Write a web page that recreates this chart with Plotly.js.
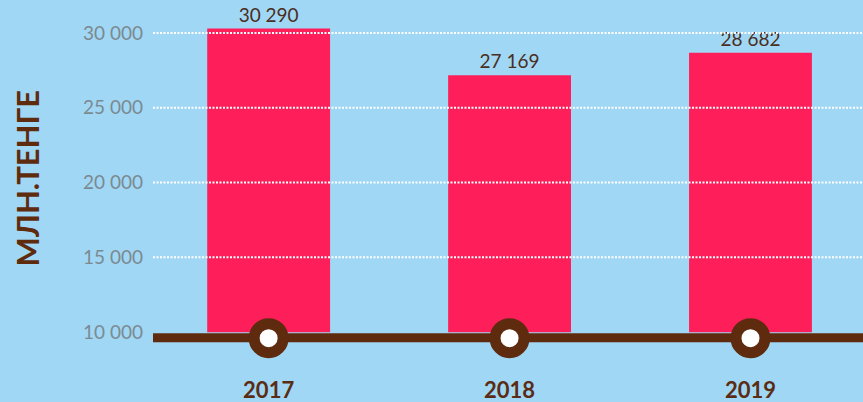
<!DOCTYPE html>
<html><head><meta charset="utf-8">
<script src="https://cdn.plot.ly/plotly-3.0.1.min.js"></script>
<style>html,body{margin:0;padding:0;background:#a0d7f4;}#chart{width:863px;height:402px;}</style>
</head><body><div id="chart"></div>
<script>
const years = ['2017', '2018', '2019'];
const values = [30290, 27169, 28682];
const yTicks = [10000, 15000, 20000, 25000, 30000];
const yTitle = 'МЛН.ТЕНГЕ';

const brown = '#5e2b0f';
const base = yTicks[0];
const yRange = [5333, 32200];
const unitsPerPx = (yRange[1] - yRange[0]) / 402;
const fmt = v => v.toLocaleString('en-US').replace(/,/g, ' ');
const data = [
  {
    type: 'bar', x: years, y: values.map(v => v - base), base: base,
    marker: {color: '#fe1f5a'},
    text: values.map(fmt),
    textposition: 'outside', cliponaxis: false,
    textfont: {family: 'Lato, sans-serif', size: 19, color: '#4a2e22'},
    hoverinfo: 'none'
  },
  {
    type: 'scatter', mode: 'markers', x: years,
    y: years.map(() => base - 6 * unitsPerPx),
    marker: {size: 29, color: '#ffffff', line: {color: brown, width: 11}},
    hoverinfo: 'none'
  },
  {
    type: 'scatter', mode: 'text', x: years,
    y: years.map(() => base - 60 * unitsPerPx),
    text: years, textposition: 'middle center',
    textfont: {family: 'Lato, sans-serif', size: 22, color: '#5a2c14', weight: 'bold'},
    hoverinfo: 'none'
  }
];
const layout = {
  width: 863, height: 402,
  margin: {l: 153, r: 0, t: 0, b: 0},
  paper_bgcolor: '#a0d7f4', plot_bgcolor: '#a0d7f4',
  showlegend: false,
  bargap: 0.49,
  xaxis: {
    type: 'category', range: [-0.48, 2.467], showgrid: false, zeroline: false,
    showline: false, showticklabels: false, ticks: ''
  },
  yaxis: {
    range: yRange, showgrid: false, zeroline: false, showline: false,
    tickvals: yTicks, ticktext: yTicks.map(fmt),
    ticks: '', ticklabelstandoff: 9,
    tickfont: {family: 'Lato, sans-serif', size: 19, color: '#7b8a92'}
  },
  shapes: yTicks.filter(v => v > base).map(v => ({
    type: 'line', xref: 'paper', x0: 0, x1: 1, yref: 'y', y0: v, y1: v,
    layer: 'above', line: {color: '#ffffff', width: 2, dash: '2px,1.5px'}
  })).concat([{
    type: 'line', xref: 'paper', x0: 0, x1: 1, yref: 'y',
    y0: base - 5.5 * unitsPerPx, y1: base - 5.5 * unitsPerPx,
    layer: 'below', line: {color: brown, width: 9}
  }]),
  annotations: [{
    text: yTitle, xref: 'paper', yref: 'paper', x: -0.177, y: 0.557,
    xanchor: 'center', yanchor: 'middle', textangle: -90, showarrow: false,
    font: {family: 'Lato, sans-serif', size: 31, color: brown, weight: 'bold'}
  }]
};
Plotly.newPlot('chart', data, layout, {displayModeBar: false, staticPlot: true});
</script></body></html>
